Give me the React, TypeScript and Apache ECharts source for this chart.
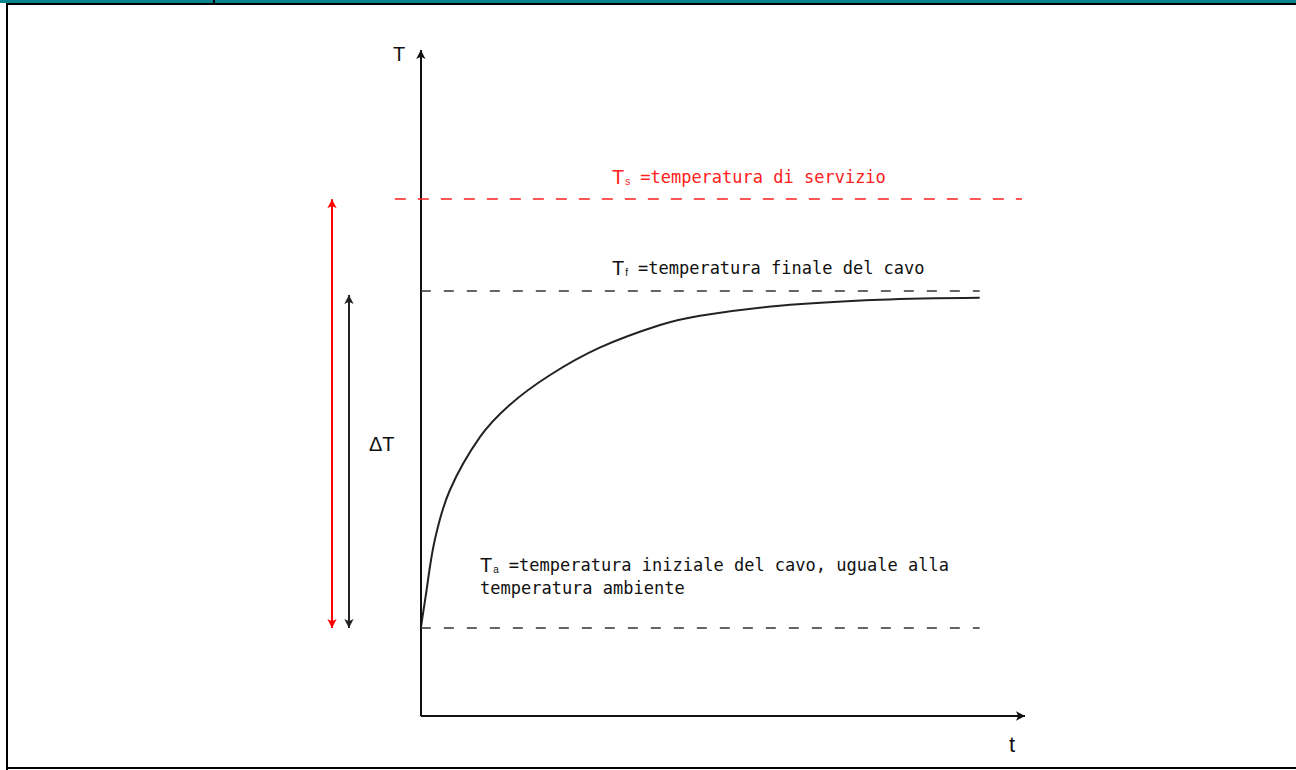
import React, { useEffect, useRef } from "react";
import * as echarts from "echarts";

// Time (arbitrary units) and temperature (arbitrary units) of the heating curve
const timeValues = [0, 0.7, 2.3, 4.8, 9.8, 14.7, 21.4, 29.6, 39.6, 46.2, 59.4, 76, 92.5];
const tempValues = [13.2, 17.4, 26.4, 33.9, 41.9, 46.7, 51.2, 55.3, 58.7, 60.1, 61.6, 62.5, 62.8];

// Reference temperatures
const T_initial = 13.2;
const T_final = 63.8;
const T_service = 77.6;

// Extents of reference lines (time units)
const serviceLineX = [-4.3, 99.5];
const levelLineX = [0, 92.5];
const deltaRedX = -14.7;
const deltaBlackX = -11.9;
const deltaBlackTop = 63.2;

const axisMax = { x: 100, y: 100 };

const labels = {
  service: "=temperatura di servizio",
  final: "=temperatura finale del cavo",
  initial1: "=temperatura iniziale del cavo, uguale alla",
  initial2: "temperatura ambiente",
  delta: "ΔT",
  yName: "T",
  xName: "t",
};

export default function App() {
  const ref = useRef<HTMLDivElement>(null);
  useEffect(() => {
    if (!ref.current) return;
    const chart = echarts.init(ref.current, null, { renderer: "svg" });
    const curve = timeValues.map((t, i) => [t, tempValues[i]]);
    const font = "DejaVu Sans Mono";
    const tfont = "Liberation Sans";
    const ml = (data: any, color: string, width: number, type: any, symbol: any) => ({
      type: "line",
      data: [],
      silent: true,
      markLine: {
        silent: true,
        animation: false,
        symbol,
        symbolSize: [7, 9],
        label: { show: false },
        lineStyle: { color, width, type },
        emphasis: { disabled: true },
        data,
      },
    });
    const rich = (color: string) => ({
      big: { fontSize: 20, fill: color, fontFamily: tfont },
      sub: { fontSize: 10, fill: color, fontFamily: tfont, padding: [8, 10, 0, 1] },
      n: { fontSize: 17, fill: color, fontFamily: font },
    });
    chart.setOption({
      animation: false,
      backgroundColor: "#ffffff",
      grid: { left: 300, right: 271, top: 50, bottom: 54 },
      xAxis: {
        type: "value",
        min: -20,
        max: axisMax.x,
        axisLine: { show: false },
        axisTick: { show: false },
        axisLabel: { show: false },
        splitLine: { show: false },
      },
      yAxis: {
        type: "value",
        min: 0,
        max: axisMax.y,
        axisLine: { show: false },
        axisTick: { show: false },
        axisLabel: { show: false },
        splitLine: { show: false },
      },
      series: [
        {
          type: "line",
          data: curve,
          smooth: 0.35,
          showSymbol: false,
          silent: true,
          lineStyle: { color: "#222222", width: 2 },
        },
        // axes
        ml([[{ coord: [0, 0] }, { coord: [0, axisMax.y] }]], "#111111", 2, "solid", ["none", "arrow"]),
        ml([[{ coord: [0, 0] }, { coord: [axisMax.x, 0] }]], "#111111", 2, "solid", ["none", "arrow"]),
        // dashed levels
        ml([[{ coord: [serviceLineX[0], T_service] }, { coord: [serviceLineX[1], T_service] }]], "#ff2020", 1.5, [11, 12], ["none", "none"]),
        ml([[{ coord: [levelLineX[0], T_final] }, { coord: [levelLineX[1], T_final] }]], "#333333", 1.5, [10, 13], ["none", "none"]),
        ml([[{ coord: [levelLineX[0], T_initial] }, { coord: [levelLineX[1], T_initial] }]], "#333333", 1.5, [10, 13], ["none", "none"]),
        // delta arrows
        ml([[{ coord: [deltaRedX, T_initial] }, { coord: [deltaRedX, T_service] }]], "#ff0000", 2, "solid", ["arrow", "arrow"]),
        ml([[{ coord: [deltaBlackX, T_initial] }, { coord: [deltaBlackX, deltaBlackTop] }]], "#222222", 2, "solid", ["arrow", "arrow"]),
      ],
      graphic: [
        { type: "rect", shape: { x: 0, y: 0, width: 1296, height: 3 }, style: { fill: "#0a8391" } },
        { type: "rect", shape: { x: 6, y: 3, width: 1290, height: 2 }, style: { fill: "#000000" } },
        { type: "rect", shape: { x: 213, y: 0, width: 2, height: 4 }, style: { fill: "#000000" } },
        { type: "rect", shape: { x: 6, y: 3, width: 2, height: 767 }, style: { fill: "#000000" } },
        { type: "rect", shape: { x: 6, y: 767, width: 1290, height: 2 }, style: { fill: "#000000" } },
        {
          type: "text", x: 612, y: 177,
          style: { text: "{big|T}{sub|s}{n|" + labels.service + "}", verticalAlign: "middle", rich: rich("#ff2020") },
        },
        {
          type: "text", x: 612, y: 268,
          style: { text: "{big|T}{sub|f}{n|" + labels.final + "}", verticalAlign: "middle", rich: rich("#111111") },
        },
        {
          type: "text", x: 480, y: 565,
          style: { text: "{big|T}{sub|a}{n|" + labels.initial1 + "}", verticalAlign: "middle", rich: rich("#111111") },
        },
        {
          type: "text", x: 480, y: 588,
          style: { text: labels.initial2, fontSize: 17, fill: "#111", fontFamily: font, verticalAlign: "middle" },
        },
        {
          type: "text", x: 369, y: 444,
          style: { text: labels.delta, fontSize: 20, fill: "#111", fontFamily: tfont, verticalAlign: "middle" },
        },
        {
          type: "text", x: 393, y: 54,
          style: { text: labels.yName, fontSize: 20, fill: "#111", fontFamily: tfont, verticalAlign: "middle" },
        },
        {
          type: "text", x: 1009, y: 744,
          style: { text: labels.xName, fontSize: 22, fill: "#111", fontFamily: tfont, verticalAlign: "middle" },
        },
      ],
    });
    return () => chart.dispose();
  }, []);
  return <div ref={ref} style={{ position: "fixed", left: 0, top: 0, width: 1296, height: 770 }} />;
}
